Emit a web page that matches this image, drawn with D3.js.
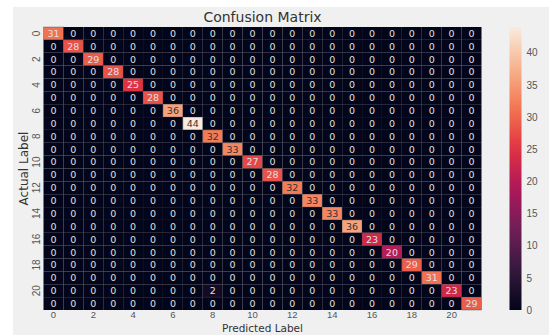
<!DOCTYPE html>
<html>
<head>
<meta charset="utf-8">
<script src="https://cdn.jsdelivr.net/npm/d3@7"></script>
<style>
  body { margin: 0; background: #ffffff; }
  svg { display: block; font-family: "DejaVu Sans", sans-serif; }
</style>
</head>
<body>
<svg id="chart" width="549" height="335"></svg>
<script>
// class labels 0..21
const classes = d3.range(22);
// correct predictions per class (diagonal)
const diagonal = [31, 28, 29, 28, 25, 28, 36, 44, 32, 33, 27, 28, 32, 33, 33, 36, 23, 20, 29, 31, 23, 29];
// off-diagonal mistakes: [actual, predicted, count]
const mistakes = [[20, 8, 2]];
const tickLabels = d3.range(0, 22, 2);
const cbarTicks = [0, 5, 10, 15, 20, 25, 30, 35, 40];

const matrix = classes.map(r => classes.map(c => (r === c ? diagonal[r] : 0)));
mistakes.forEach(([r, c, v]) => { matrix[r][c] = v; });
const cells = [];
matrix.forEach((row, r) => row.forEach((v, c) => cells.push({ r, c, v })));

const svg = d3.select("#chart");

svg.append("rect")
  .attr("x", 13).attr("y", 7)
  .attr("width", 549 - 13).attr("height", 335 - 7)
  .attr("fill", "#f0f0f0");

const mLeft = 43.5, mTop = 27, mRight = 481.5, mBottom = 310;

const x = d3.scaleBand().domain(classes).range([mLeft, mRight]);
const y = d3.scaleBand().domain(classes).range([mTop, mBottom]);

// seaborn "rocket" approximation
const rocket = d3.scaleLinear()
  .domain([0, 1 / 7, 2 / 7, 3 / 7, 4 / 7, 5 / 7, 6 / 7, 1])
  .range(["#03051a", "#35193e", "#701f57", "#ad1759", "#e13342", "#f37651", "#f6b48f", "#faebdd"])
  .interpolate(d3.interpolateRgb);
const vmax = d3.max(cells, d => d.v);
const color = v => rocket(v / vmax);

const g = svg.append("g");

g.selectAll("rect.cell")
  .data(cells)
  .enter()
  .append("rect")
  .attr("class", "cell")
  .attr("x", d => x(d.c))
  .attr("y", d => y(d.r))
  .attr("width", x.bandwidth())
  .attr("height", y.bandwidth())
  .attr("fill", d => color(d.v))
  .attr("stroke", d => d.v > 0 ? "rgba(60,60,60,0.45)" : "none")
  .attr("stroke-width", 0.8);

g.selectAll("text.annot")
  .data(cells)
  .enter()
  .append("text")
  .attr("class", "annot")
  .attr("x", d => x(d.c) + x.bandwidth() / 2)
  .attr("y", d => y(d.r) + y.bandwidth() / 2)
  .attr("dy", "0.36em")
  .attr("text-anchor", "middle")
  .style("font-size", "9.5px")
  .style("fill", d => {
    const c = d3.rgb(color(d.v));
    const lum = (0.299 * c.r + 0.587 * c.g + 0.114 * c.b) / 255;
    return lum > 0.6 ? "#333333" : "#e0e0e0";
  })
  .text(d => d.v);

// axes
const xAxis = svg.append("g")
  .attr("transform", `translate(0,${mBottom})`)
  .call(d3.axisBottom(x).tickValues(tickLabels).tickSize(0).tickPadding(1.5));
xAxis.select(".domain").remove();
xAxis.selectAll("text").style("font-size", "9.5px").style("fill", "#555555");

const yAxis = svg.append("g")
  .attr("transform", `translate(${mLeft},0)`)
  .call(d3.axisLeft(y).tickValues(tickLabels).tickSize(0).tickPadding(0));
yAxis.select(".domain").remove();
yAxis.selectAll(".tick").attr("transform", null);
yAxis.selectAll("text")
  .style("font-size", "10px")
  .style("fill", "#555555")
  .attr("text-anchor", "middle")
  .attr("x", 0).attr("y", 0).attr("dy", 0)
  .attr("transform", d => `translate(-4,${y(d) + y.bandwidth() / 2}) rotate(-90)`);

svg.append("text")
  .attr("x", (mLeft + mRight) / 2)
  .attr("y", 22)
  .attr("text-anchor", "middle")
  .style("font-size", "14px")
  .style("fill", "#333333")
  .text("Confusion Matrix");

svg.append("text")
  .attr("x", (mLeft + mRight) / 2)
  .attr("y", 332)
  .attr("text-anchor", "middle")
  .style("font-size", "10.5px")
  .style("fill", "#333333")
  .text("Predicted Label");

svg.append("text")
  .attr("transform", `translate(28,${(mTop + mBottom) / 2}) rotate(-90)`)
  .attr("text-anchor", "middle")
  .style("font-size", "12px")
  .style("fill", "#333333")
  .text("Actual Label");

// colorbar
const cbX = 509.5, cbW = 12;
const cy = d3.scaleLinear().domain([0, vmax]).range([mBottom, mTop]);
const defs = svg.append("defs");
const grad = defs.append("linearGradient")
  .attr("id", "cbar").attr("x1", 0).attr("y1", 1).attr("x2", 0).attr("y2", 0);
d3.range(0, 1.0001, 0.05).forEach(t => {
  grad.append("stop").attr("offset", t).attr("stop-color", rocket(t));
});
svg.append("rect")
  .attr("x", cbX).attr("y", mTop)
  .attr("width", cbW).attr("height", mBottom - mTop)
  .attr("fill", "url(#cbar)");

const cAxis = svg.append("g")
  .attr("transform", `translate(${cbX + cbW},0)`)
  .call(d3.axisRight(cy).tickValues(cbarTicks).tickSize(0).tickPadding(5));
cAxis.select(".domain").remove();
cAxis.selectAll("text").style("font-size", "10px").style("fill", "#555555");
</script>
</body>
</html>
